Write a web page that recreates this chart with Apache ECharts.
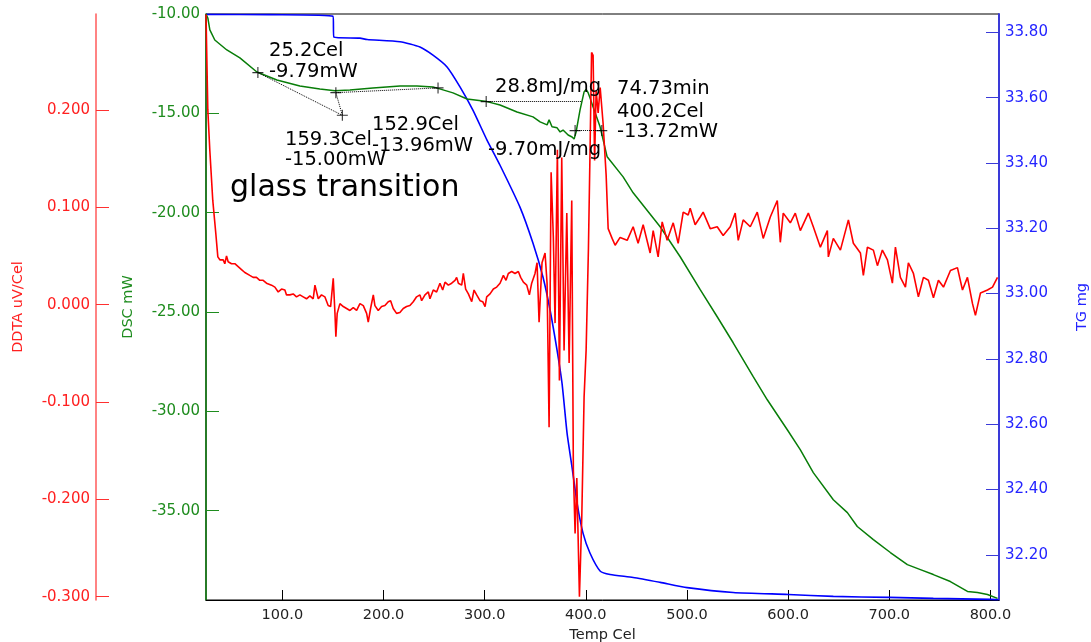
<!DOCTYPE html>
<html>
<head>
<meta charset="utf-8">
<title>TG / DSC / DDTA</title>
<script src="https://cdn.jsdelivr.net/npm/echarts@6/dist/echarts.min.js"></script>
<style>
  html, body { margin: 0; padding: 0; background: #fff; }
  #chart { width: 1091px; height: 642px; }
</style>
</head>
<body>
<div id="chart"></div>
<script>
// 坐标轴刻度
var tempTicks = [100, 200, 300, 400, 500, 600, 700, 800];
var dscTicks = [-35, -30, -25, -20, -15, -10];
var ddtaTicks = [-0.3, -0.2, -0.1, 0, 0.1, 0.2];
var tgTicks = [32.2, 32.4, 32.6, 32.8, 33.0, 33.2, 33.4, 33.6, 33.8];

// TG mg
var tgCurve = [
  [24.5, 33.855], [87.6, 33.854], [150.0, 33.849], [151.0, 33.785], [176.7, 33.782],
  [183.8, 33.778], [216.3, 33.771], [236.0, 33.755], [248.9, 33.730], [262.8, 33.694],
  [275.6, 33.633], [288.5, 33.561], [302.3, 33.470], [315.2, 33.393], [335.0, 33.264],
  [347.8, 33.154], [357.7, 33.050], [364.7, 32.949], [371.6, 32.826], [376.5, 32.725],
  [381.5, 32.572], [386.4, 32.468], [391.4, 32.358], [397.3, 32.266], [404.2, 32.205],
  [414.1, 32.151], [424.0, 32.140], [446.8, 32.131], [473.5, 32.116], [500.2, 32.100],
  [545.7, 32.085], [600.1, 32.079], [644.7, 32.073], [700.1, 32.070], [743.6, 32.067],
  [800.0, 32.064], [808.0, 32.063]
];

// DSC mW
var dscCurve = [
  [24.5, -10.00], [26.3, -10.20], [28.3, -10.80], [33.2, -11.31], [45.1, -11.81],
  [58.0, -12.21], [74.8, -12.92], [94.6, -13.32], [117.3, -13.62], [137.1, -13.77],
  [151.9, -13.86], [166.8, -13.82], [189.5, -13.72], [216.3, -13.62], [233.1, -13.62],
  [248.9, -13.67], [268.7, -13.97], [282.6, -14.28], [302.3, -14.41], [315.2, -14.58],
  [332.0, -14.93], [347.8, -15.18], [354.8, -15.43], [361.7, -15.58], [363.7, -15.33],
  [366.6, -15.68], [371.6, -15.73], [374.6, -15.94], [377.5, -15.84], [382.5, -16.09],
  [386.4, -16.19], [388.4, -16.29], [390.4, -15.94], [394.3, -14.83], [398.3, -13.92],
  [400.2, -13.80], [402.2, -13.95], [404.2, -14.23], [407.2, -14.68], [414.1, -15.68],
  [421.1, -17.19], [436.9, -18.20], [446.8, -19.00], [473.5, -20.71], [493.3, -22.22],
  [513.1, -23.88], [529.9, -25.24], [545.7, -26.55], [565.5, -28.26], [579.4, -29.42],
  [599.2, -30.93], [612.0, -31.93], [624.9, -33.09], [644.7, -34.45], [658.6, -35.10],
  [668.4, -35.80], [684.3, -36.46], [701.1, -37.11], [717.9, -37.72], [730.8, -37.97],
  [743.6, -38.22], [760.4, -38.57], [777.3, -39.07], [787.2, -39.12], [797.1, -39.22],
  [807.0, -39.42]
];

// DDTA uV/Cel
var ddtaCurve = [
  [24.5, 0.298], [26.3, 0.200], [28.3, 0.158], [31.2, 0.107], [34.2, 0.073],
  [36.2, 0.049], [38.2, 0.046], [39.8, 0.044], [41.5, 0.046], [43.1, 0.042],
  [44.8, 0.050], [46.4, 0.044], [49.7, 0.042], [53.0, 0.042], [56.3, 0.039],
  [59.6, 0.036], [62.9, 0.033], [64.5, 0.034], [67.8, 0.030], [71.1, 0.028],
  [74.4, 0.028], [77.7, 0.025], [81.0, 0.025], [84.3, 0.022], [89.3, 0.020],
  [92.6, 0.018], [95.9, 0.013], [99.2, 0.016], [102.5, 0.015], [104.1, 0.010],
  [107.4, 0.010], [110.7, 0.011], [114.0, 0.008], [117.3, 0.010], [120.6, 0.008],
  [123.9, 0.006], [127.2, 0.009], [130.5, 0.006], [132.2, 0.020], [133.8, 0.018],
  [135.5, 0.006], [138.7, 0.010], [142.0, 0.008], [145.3, -0.001], [147.7, -0.002],
  [150.3, 0.027], [152.0, -0.009], [152.9, -0.033], [154.2, -0.009], [156.9, 0.001],
  [160.2, -0.002], [163.5, -0.004], [166.8, -0.006], [170.1, -0.003], [173.4, -0.006],
  [176.7, 0.001], [180.0, -0.001], [183.3, -0.009], [184.9, -0.018], [187.2, -0.004],
  [189.9, 0.010], [191.5, -0.001], [194.8, -0.006], [198.1, -0.002], [201.4, -0.001],
  [204.7, 0.003], [207.0, 0.004], [209.6, -0.004], [212.9, -0.009], [216.2, -0.008],
  [219.5, -0.004], [222.8, -0.002], [226.1, -0.001], [229.4, 0.003], [232.7, 0.008],
  [236.0, 0.010], [237.7, 0.004], [241.0, 0.010], [244.3, 0.013], [245.9, 0.006],
  [249.2, 0.015], [252.5, 0.013], [255.8, 0.022], [258.5, 0.015], [260.8, 0.023],
  [264.1, 0.020], [267.4, 0.022], [270.7, 0.025], [272.3, 0.028], [274.0, 0.022],
  [277.3, 0.020], [278.9, 0.032], [281.2, 0.016], [283.9, 0.011], [287.2, 0.003],
  [289.5, 0.015], [292.1, 0.010], [295.4, 0.004], [298.1, 0.003], [300.4, -0.002],
  [302.0, 0.008], [305.3, 0.011], [308.6, 0.016], [311.9, 0.018], [315.2, 0.022],
  [318.5, 0.030], [321.1, 0.025], [323.4, 0.032], [326.7, 0.034], [330.0, 0.032],
  [333.3, 0.034], [335.6, 0.028], [338.3, 0.023], [341.6, 0.020], [344.2, 0.010],
  [346.5, 0.022], [349.8, 0.032], [351.8, 0.043], [353.8, -0.018], [356.7, 0.043],
  [359.7, 0.053], [361.7, 0.022], [363.7, -0.126], [365.7, 0.136], [367.9, 0.069],
  [369.6, -0.019], [371.9, 0.159], [373.9, -0.078], [376.2, 0.151], [378.5, -0.047],
  [381.2, 0.094], [383.5, -0.060], [386.1, 0.107], [387.7, -0.170], [389.4, -0.235],
  [391.1, -0.178], [393.7, -0.300], [396.0, -0.219], [398.3, -0.095], [400.3, -0.047],
  [402.6, 0.058], [404.2, 0.159], [405.7, 0.259], [407.2, 0.256], [408.7, 0.148],
  [410.2, 0.220], [412.2, 0.197], [414.2, 0.223], [417.1, 0.186], [420.1, 0.133],
  [422.1, 0.078], [426.0, 0.068], [429.0, 0.061], [433.9, 0.069], [440.9, 0.066],
  [446.8, 0.080], [451.7, 0.063], [456.7, 0.082], [463.6, 0.053], [466.6, 0.076],
  [471.5, 0.049], [475.5, 0.085], [480.4, 0.066], [486.4, 0.084], [491.3, 0.063],
  [496.3, 0.095], [501.2, 0.092], [503.2, 0.099], [508.1, 0.082], [513.1, 0.090],
  [516.0, 0.095], [523.0, 0.078], [529.9, 0.080], [535.8, 0.071], [542.8, 0.080],
  [547.7, 0.094], [550.7, 0.066], [555.6, 0.087], [562.6, 0.080], [569.5, 0.095],
  [575.4, 0.068], [582.4, 0.090], [589.3, 0.107], [592.3, 0.064], [595.2, 0.094],
  [602.2, 0.084], [607.1, 0.094], [612.1, 0.076], [620.0, 0.094], [624.9, 0.080],
  [631.9, 0.059], [638.8, 0.076], [639.8, 0.049], [644.7, 0.068], [651.7, 0.056],
  [659.6, 0.087], [664.5, 0.063], [671.5, 0.053], [674.4, 0.030], [678.4, 0.059],
  [684.3, 0.056], [688.3, 0.040], [693.2, 0.056], [698.2, 0.046], [703.1, 0.022],
  [706.1, 0.059], [711.0, 0.028], [716.0, 0.018], [718.9, 0.043], [723.9, 0.032],
  [728.8, 0.008], [733.8, 0.028], [738.7, 0.025], [743.7, 0.007], [748.6, 0.025],
  [753.6, 0.018], [760.5, 0.035], [767.4, 0.038], [772.4, 0.015], [777.3, 0.028],
  [782.3, 0.001], [785.2, -0.011], [790.2, 0.012], [797.1, 0.015], [802.1, 0.018],
  [807.0, 0.028]
];

// 标注点 (Temp, DSC)
var markCrosses = [
  [75.8, -12.95], [152.9, -13.96], [159.3, -15.10], [253.9, -13.72],
  [301.5, -14.41], [389.4, -15.87], [415.8, -15.87]
];
var markSegments = [
  [[75.8, -12.95], [159.3, -15.10]],
  [[152.9, -13.96], [159.3, -15.10]],
  [[152.9, -13.96], [253.9, -13.72]],
  [[301.5, -14.41], [396.3, -14.41]],
  [[389.4, -15.87], [415.8, -15.87]]
];

var tickFont = 'DejaVu Sans';
var noteFont = '19.5px "DejaVu Sans"';

var chartInstance = echarts.init(document.getElementById('chart'));

function note(text, x, y, font) {
  return {
    type: 'text',
    x: x,
    y: y,
    z: 100,
    style: {
      text: text,
      font: font || noteFont,
      fill: '#000',
      verticalAlign: 'middle'
    }
  };
}

var option = {
  animation: false,
  backgroundColor: '#fff',
  grid: {
    left: 206,
    right: 92,
    top: 14,
    bottom: 42,
    show: true,
    borderColor: '#000',
    borderWidth: 1,
    outerBoundsMode: 'none'
  },
  xAxis: {
    type: 'value',
    min: 24.5,
    max: 808.5,
    name: 'Temp Cel',
    nameLocation: 'middle',
    nameGap: 24,
    nameTextStyle: { color: '#222', fontSize: 14.5, fontFamily: tickFont },
    axisLine: { onZero: false, lineStyle: { color: '#000', width: 1 } },
    axisTick: {
      inside: true,
      length: 10,
      customValues: tempTicks,
      lineStyle: { color: '#000' }
    },
    axisLabel: {
      customValues: tempTicks,
      formatter: function (v) { return v.toFixed(1); },
      color: '#222',
      fontSize: 14.5,
      fontFamily: tickFont,
      margin: 8
    },
    splitLine: { show: false }
  },
  yAxis: [
    {
      // DSC
      type: 'value',
      position: 'left',
      min: -39.5,
      max: -10,
      name: 'DSC mW',
      nameLocation: 'middle',
      nameGap: 70,
      nameTextStyle: { color: '#1e8c1e', fontSize: 14.5, fontFamily: tickFont },
      axisLine: { show: true, onZero: false, lineStyle: { color: '#0a7a0a', width: 1.5 } },
      axisTick: {
        show: true,
        inside: true,
        length: 13,
        customValues: dscTicks,
        lineStyle: { color: '#1e8c1e' }
      },
      axisLabel: {
        customValues: dscTicks,
        formatter: function (v) { return v.toFixed(2); },
        color: '#1e8c1e',
        fontSize: 15,
        fontFamily: tickFont,
        margin: 6
      },
      splitLine: { show: false }
    },
    {
      // DDTA
      type: 'value',
      position: 'left',
      offset: 110,
      min: -0.3034,
      max: 0.2985,
      name: 'DDTA uV/Cel',
      nameLocation: 'middle',
      nameGap: 70,
      nameTextStyle: { color: '#ff2020', fontSize: 14.5, fontFamily: tickFont },
      axisLine: { show: true, onZero: false, lineStyle: { color: '#ff5a5a', width: 1.5 } },
      axisTick: {
        show: true,
        inside: true,
        length: 13,
        customValues: ddtaTicks,
        lineStyle: { color: '#ff3030' }
      },
      axisLabel: {
        customValues: ddtaTicks,
        formatter: function (v) { return v.toFixed(3); },
        color: '#ff2020',
        fontSize: 15,
        fontFamily: tickFont,
        margin: 6
      },
      splitLine: { show: false }
    },
    {
      // TG
      type: 'value',
      position: 'right',
      min: 32.062,
      max: 33.856,
      name: 'TG mg',
      nameLocation: 'middle',
      nameGap: 76,
      nameTextStyle: { color: '#2424ff', fontSize: 14.5, fontFamily: tickFont },
      axisLine: { show: true, onZero: false, lineStyle: { color: '#3a3ad8', width: 2 } },
      axisTick: {
        show: true,
        inside: true,
        length: 13,
        customValues: tgTicks,
        lineStyle: { color: '#3a3ad8' }
      },
      axisLabel: {
        customValues: tgTicks,
        formatter: function (v) { return v.toFixed(2); },
        color: '#2424ff',
        fontSize: 15,
        fontFamily: tickFont,
        margin: 6
      },
      splitLine: { show: false }
    }
  ],
  series: [
    {
      name: 'TG',
      type: 'line',
      yAxisIndex: 2,
      data: tgCurve,
      showSymbol: false,
      smooth: 0.2,
      lineStyle: { color: '#0000ff', width: 1.6 },
      z: 2
    },
    {
      name: 'DSC',
      type: 'line',
      yAxisIndex: 0,
      data: dscCurve,
      showSymbol: false,
      lineStyle: { color: '#087d08', width: 1.5 },
      z: 3
    },
    {
      name: 'DDTA',
      type: 'line',
      yAxisIndex: 1,
      data: ddtaCurve,
      showSymbol: false,
      lineStyle: { color: '#ff0000', width: 1.6 },
      z: 4
    },
    {
      name: 'marks',
      type: 'scatter',
      yAxisIndex: 0,
      data: markCrosses,
      symbol: 'path://M4.5,0h1v4.5h4.5v1h-4.5v4.5h-1v-4.5h-4.5v-1h4.5z',
      symbolSize: 11,
      itemStyle: { color: '#000' },
      silent: true,
      z: 5,
      markLine: {
        silent: true,
        symbol: 'none',
        label: { show: false },
        lineStyle: { color: '#000', width: 1, type: 'dotted' },
        data: markSegments.map(function (s) {
          return [{ coord: s[0] }, { coord: s[1] }];
        })
      }
    }
  ],
  graphic: [
    note('25.2Cel', 269, 51),
    note('-9.79mW', 269, 72),
    note('159.3Cel', 285, 140),
    note('-15.00mW', 285, 160),
    note('152.9Cel', 372, 125),
    note('-13.96mW', 372, 146),
    note('28.8mJ/mg', 495, 87),
    note('-9.70mJ/mg', 488, 150),
    note('74.73min', 617, 89),
    note('400.2Cel', 617, 112),
    note('-13.72mW', 617, 132),
    note('glass transition', 230, 188, '30px "DejaVu Sans"')
  ]
};

chartInstance.setOption(option);
window.addEventListener('resize', function () {
  chartInstance.resize();
});
</script>
</body>
</html>
